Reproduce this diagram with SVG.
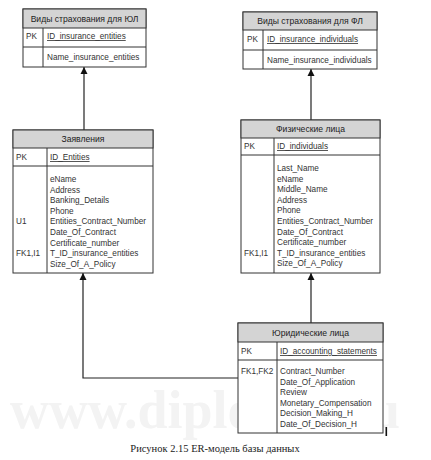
<svg xmlns="http://www.w3.org/2000/svg" width="431" height="460" viewBox="0 0 431 460">
<style>
.box{fill:#fff;stroke:#333;stroke-width:1}
.hd{fill:#d4d4d4;stroke:#333;stroke-width:1}
.ln{stroke:#333;stroke-width:1;fill:none}
.ht{font-family:"Liberation Sans",sans-serif;font-size:8.6px;fill:#222;text-anchor:middle}
.t{font-family:"Liberation Sans",sans-serif;font-size:8.2px;fill:#333}
.u{text-decoration:underline}
.con{stroke:#222;stroke-width:1.2;fill:none}
</style>
<defs>
<marker id="ah" viewBox="0 0 10 10" refX="10" refY="5" markerWidth="7" markerHeight="8" orient="auto" markerUnits="userSpaceOnUse">
<path d="M0,0 L10,5 L0,10 z" fill="#111"/>
</marker>
</defs>
<rect width="431" height="460" fill="#fff"/>
<text x="10" y="428" font-family="Liberation Serif,serif" font-weight="bold" font-size="54" fill="#f3f3f3">www.diplomit.ru</text>

<g id="connectors">
<path class="con" d="M84,130 V67" marker-end="url(#ah)"/>
<path class="con" d="M311,120 V69" marker-end="url(#ah)"/>
<path class="con" d="M311,323 V273" marker-end="url(#ah)"/>
<path class="con" d="M238,378 H83 V273" marker-end="url(#ah)"/>
</g>

<g id="vid_ul">
<rect class="box" x="23" y="9" width="123" height="58"/>
<rect class="hd" x="23" y="9" width="123" height="19"/>
<line class="ln" x1="23" y1="47" x2="146" y2="47"/>
<line class="ln" x1="43" y1="28" x2="43" y2="67"/>
<text class="ht" x="84.5" y="21.5">Виды страхования для ЮЛ</text>
<text class="t" x="26" y="39">PK</text>
<text class="t u" x="47" y="39">ID_insurance_entities</text>
<text class="t" x="47" y="60">Name_insurance_entities</text>
</g>

<g id="vid_fl">
<rect class="box" x="243" y="12" width="134" height="57"/>
<rect class="hd" x="243" y="12" width="134" height="18"/>
<line class="ln" x1="243" y1="50" x2="377" y2="50"/>
<line class="ln" x1="263" y1="30" x2="263" y2="69"/>
<text class="ht" x="310" y="24">Виды страхования для ФЛ</text>
<text class="t" x="247" y="42">PK</text>
<text class="t u" x="267" y="42">ID_insurance_individuals</text>
<text class="t" x="267" y="63">Name_insurance_individuals</text>
</g>

<g id="zayavleniya">
<rect class="box" x="13" y="130" width="140" height="143"/>
<rect class="hd" x="13" y="130" width="140" height="18"/>
<line class="ln" x1="13" y1="166" x2="153" y2="166"/>
<line class="ln" x1="47" y1="148" x2="47" y2="273"/>
<text class="ht" x="83" y="142">Заявления</text>
<text class="t" x="16" y="160">PK</text>
<text class="t u" x="50" y="160">ID_Entities</text>
<text class="t" x="50" y="182">eName</text>
<text class="t" x="50" y="192.6">Address</text>
<text class="t" x="50" y="203.2">Banking_Details</text>
<text class="t" x="50" y="213.8">Phone</text>
<text class="t" x="16" y="224.4">U1</text>
<text class="t" x="50" y="224.4">Entities_Contract_Number</text>
<text class="t" x="50" y="235">Date_Of_Contract</text>
<text class="t" x="50" y="245.6">Certificate_number</text>
<text class="t" x="16" y="256.2">FK1,I1</text>
<text class="t" x="50" y="256.2">T_ID_insurance_entities</text>
<text class="t" x="50" y="266.8">Size_Of_A_Policy</text>
</g>

<g id="fiz_litsa">
<rect class="box" x="241" y="120" width="139" height="153"/>
<rect class="hd" x="241" y="120" width="139" height="18"/>
<line class="ln" x1="241" y1="155" x2="380" y2="155"/>
<line class="ln" x1="274" y1="138" x2="274" y2="273"/>
<text class="ht" x="310.5" y="132">Физические лица</text>
<text class="t" x="244" y="149">PK</text>
<text class="t u" x="277" y="149">ID_individuals</text>
<text class="t" x="277" y="171">Last_Name</text>
<text class="t" x="277" y="181.6">eName</text>
<text class="t" x="277" y="192.2">Middle_Name</text>
<text class="t" x="277" y="202.8">Address</text>
<text class="t" x="277" y="213.4">Phone</text>
<text class="t" x="277" y="224">Entities_Contract_Number</text>
<text class="t" x="277" y="234.6">Date_Of_Contract</text>
<text class="t" x="277" y="245.2">Certificate_number</text>
<text class="t" x="244" y="255.8">FK1,I1</text>
<text class="t" x="277" y="255.8">T_ID_insurance_entities</text>
<text class="t" x="277" y="266.4">Size_Of_A_Policy</text>
</g>

<g id="yur_litsa">
<rect class="box" x="238" y="323" width="145" height="110"/>
<rect class="hd" x="238" y="323" width="145" height="19"/>
<line class="ln" x1="238" y1="360" x2="383" y2="360"/>
<line class="ln" x1="277" y1="342" x2="277" y2="433"/>
<text class="ht" x="310.5" y="335.5">Юридические лица</text>
<text class="t" x="241" y="354">PK</text>
<text class="t u" x="280" y="354">ID_accounting_statements</text>
<text class="t" x="241" y="374">FK1,FK2</text>
<text class="t" x="280" y="374">Contract_Number</text>
<text class="t" x="280" y="384.6">Date_Of_Application</text>
<text class="t" x="280" y="395.2">Review</text>
<text class="t" x="280" y="405.8">Monetary_Compensation</text>
<text class="t" x="280" y="416.4">Decision_Making_H</text>
<text class="t" x="280" y="427">Date_Of_Decision_H</text>
</g>
<rect x="385.5" y="427" width="1.6" height="9" fill="#111"/>

<text x="215" y="452" font-family="Liberation Serif,serif" font-size="10.5" fill="#222" text-anchor="middle">Рисунок 2.15 ER-модель базы данных</text>
</svg>
